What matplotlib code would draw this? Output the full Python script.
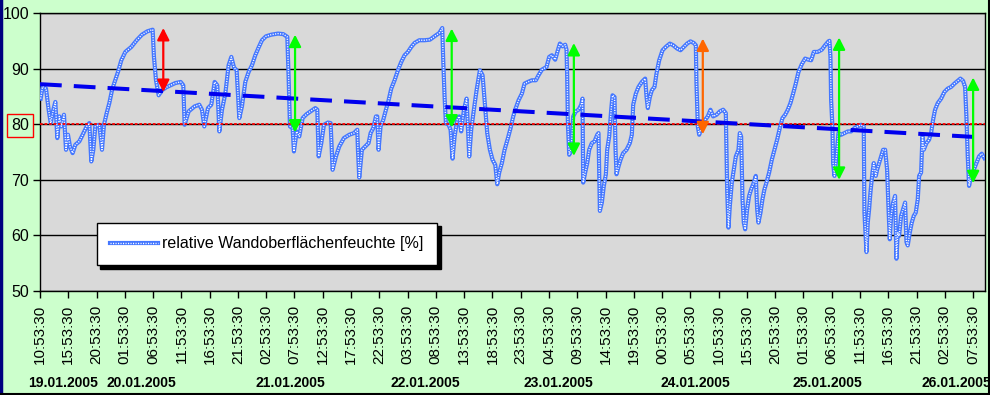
import matplotlib
matplotlib.use("Agg")
import matplotlib.pyplot as plt
from matplotlib.lines import Line2D
import numpy as np

plt.rcParams['font.family'] = ['Liberation Sans', 'DejaVu Sans']

# ---- data: hours since 19.01.2005 10:53:30, relative humidity [%] ----
hours = [0.12, 0.47, 1.06, 1.53, 1.89, 2.36, 2.71, 3.06, 3.42, 3.77, 4.24, 4.60, 4.95, 5.30, 5.77,
         6.25, 6.95, 7.54, 8.25, 8.72, 9.07, 9.43, 9.78, 10.49, 10.96, 11.31, 11.79, 12.26, 12.73,
         13.20, 13.79, 14.38, 15.09, 16.15, 17.09, 18.03, 18.97, 19.92, 20.15, 20.51, 20.98, 21.57,
         22.27, 23.10, 23.92, 24.87, 25.34, 25.57, 26.28, 27.34, 28.17,
         28.64, 29.05, 29.70, 30.29, 30.88, 31.35, 31.71, 32.18, 32.77, 33.35, 33.83, 34.30, 34.77,
         35.24, 35.71, 36.30, 36.89, 37.48, 38.07, 38.66, 39.25, 39.95, 40.90, 42.08, 43.02, 43.73,
         43.96, 44.20, 44.67, 44.90, 45.38, 45.85, 46.44, 47.14, 47.97, 48.68, 49.03, 49.27, 49.74,
         50.21, 50.92, 51.39, 51.74, 52.33, 52.92, 53.74, 54.69, 55.51, 56.10,
         56.22, 56.45, 56.92, 57.51, 58.10, 58.46, 58.93, 59.40, 59.63, 59.87, 60.22, 60.70, 61.17,
         61.64, 62.11, 62.70, 63.29, 63.88, 64.47, 65.06, 65.65, 66.23, 67.06, 68.00, 68.95, 69.89,
         70.60, 71.13, 71.30, 71.54, 71.77, 72.25, 72.60, 72.95, 73.31, 73.78, 74.13, 74.48, 74.96,
         75.43, 75.90, 76.25, 76.72, 77.20, 77.78, 78.26, 78.61, 79.08, 79.55, 80.02, 80.50, 80.85,
         81.20, 81.67, 82.15, 82.74, 83.21, 83.68, 84.03,
         84.62, 85.21, 85.68, 86.27, 86.98, 87.68, 88.15, 88.74, 89.57, 90.04, 90.51, 91.10, 91.57,
         91.93, 92.40, 92.87, 93.10, 93.22, 93.34, 93.58, 93.93, 94.28, 94.75, 95.23, 95.70, 95.93,
         96.05, 96.40, 96.76, 97.11, 97.58, 98.05, 98.53, 98.76, 99.00, 99.35, 99.70, 100.06, 100.29,
         100.65, 101.00, 101.24, 101.59, 101.77, 101.94, 102.30, 102.65, 103.12, 103.71, 104.30,
         104.65, 104.89, 105.36, 105.83, 106.42, 107.01, 107.25, 107.48, 107.84, 108.19, 108.66,
         109.01, 109.49, 110.08, 110.66, 111.37, 111.96,
         112.67, 113.26, 113.84, 114.43, 115.02, 115.61, 115.97, 116.08, 116.32, 116.56, 116.91,
         117.26, 117.62, 118.09, 118.56, 119.03, 119.62, 120.21, 120.80, 121.27, 121.51, 121.74,
         121.98, 122.33, 122.68, 123.04, 123.51, 123.74, 123.98, 124.22, 124.45, 124.69, 125.04,
         125.39, 125.75, 126.22, 126.57, 126.81, 127.04, 127.40, 127.75, 128.10, 128.46, 128.93,
         129.40, 129.87, 130.34, 130.82, 131.29, 131.76, 132.23, 132.70, 133.17, 133.64, 134.12,
         134.71, 135.29, 135.88, 136.36, 136.83, 137.53, 138.24, 138.83, 139.42, 139.60,
         139.77, 139.89, 140.12, 140.24, 140.48, 140.83, 141.19, 141.66, 142.25, 142.84, 143.42,
         144.01, 144.60, 145.19, 145.66, 145.78, 146.14, 146.37, 146.61, 146.84, 147.20, 147.43,
         147.79, 148.02, 148.37, 148.73, 149.08, 149.44, 149.79, 150.02, 150.26, 150.50, 150.85,
         151.20, 151.44, 151.67, 151.91, 152.26, 152.62, 152.97, 153.21, 153.44, 153.80, 154.15,
         154.50, 154.86, 155.21, 155.45, 155.80, 156.04, 156.27, 156.74, 157.21, 157.57, 157.92,
         158.27, 158.75, 159.34, 159.92, 160.51, 161.10, 161.69, 162.28, 162.75, 163.22, 163.58,
         163.81, 164.05, 164.28, 164.64, 165.11, 165.58, 166.05, 166.52, 167.0]

humidity = [84.6, 86.8, 86.4, 82.6, 80.2, 82.6, 84.0, 77.5, 81.4, 79.6, 81.7, 75.4, 78.1, 76.0, 74.8,
            76.3, 76.9, 78.1, 79.6, 80.2, 73.3, 75.4, 79.6, 79.9, 75.4, 79.9, 82.0, 83.8, 86.1,
            87.6, 89.4, 91.5, 93.0, 93.9, 95.1, 96.1, 96.7, 97.0, 92.1, 87.9, 85.2, 86.1,
            86.6, 87.0, 87.4, 87.6, 87.0, 79.9, 82.3, 83.2, 83.5,
            82.6, 79.6, 82.9, 83.5, 87.6, 87.0, 78.7, 82.6, 85.5, 90.6, 92.1, 90.2, 89.7,
            81.1, 83.2, 87.6, 89.4, 90.6, 92.4, 93.8, 95.1, 95.8, 96.1, 96.3, 96.2, 95.7,
            88.5, 79.6, 79.3, 75.1, 78.7, 77.8, 81.1, 81.8, 82.4, 82.9, 82.6, 74.2, 76.6,
            79.9, 80.3, 80.2, 71.8, 74.2, 76.0, 77.5, 78.1, 78.4, 79.0,
            75.4, 70.4, 75.4, 76.0, 76.6, 78.4, 79.3, 81.4, 81.4, 75.4, 79.6, 80.8, 82.6,
            84.3, 86.4, 87.9, 89.7, 91.2, 92.4, 93.0, 93.9, 94.6, 95.1, 95.1, 95.2, 95.9,
            96.4, 97.3, 91.5, 84.9, 80.2, 79.9, 79.0, 73.8, 77.8, 80.8, 81.4, 78.7, 82.6,
            84.6, 74.2, 79.0, 82.6, 86.1, 89.7, 88.8, 84.3, 78.4, 75.4, 73.6, 72.7, 69.2,
            71.3, 73.0, 75.4, 77.5, 79.3, 81.4, 82.6,
            84.3, 85.5, 87.3, 87.6, 87.9, 87.9, 88.8, 89.8, 90.3, 92.1, 92.4, 91.6, 93.3,
            94.5, 94.0, 94.3, 93.4, 88.5, 80.2, 74.5, 75.4, 81.4, 82.3, 82.6, 83.5, 84.6,
            69.5, 71.3, 73.0, 75.4, 76.6, 76.9, 78.1, 78.4, 64.4, 65.9, 68.9, 71.0, 75.4,
            77.8, 82.6, 85.2, 84.9, 75.4, 71.0, 72.4, 73.6, 74.8, 75.4, 76.6,
            78.1, 83.5, 85.5, 86.7, 87.6, 88.2, 84.9, 82.9, 84.9, 86.1, 86.7,
            89.1, 91.5, 93.3, 93.9, 94.5, 94.2,
            93.6, 93.3, 93.9, 94.5, 94.9, 94.6, 94.2, 87.3, 79.6, 78.1, 79.3,
            79.9, 80.8, 81.4, 82.6, 81.4, 81.7, 82.3, 82.6, 82.0, 68.0, 61.4,
            65.3, 69.5, 71.8, 74.2, 75.4, 78.4, 77.8, 66.5, 62.3, 61.1, 64.7,
            67.1, 68.3, 69.5, 70.7, 64.7, 62.3, 64.1, 66.5, 68.3, 69.5, 71.3,
            73.6, 75.4, 77.2, 79.3, 81.1, 81.7, 82.6, 83.8, 85.5, 87.3, 89.4,
            90.8, 91.8, 91.6, 91.5, 93.0, 93.0, 93.4, 94.2, 94.9, 95.0,
            92.1, 84.3, 79.6, 73.0, 70.7, 74.2, 78.4, 78.1, 78.4, 78.7, 78.7,
            79.3, 79.6, 79.9, 79.6, 64.1, 57.0, 62.3, 64.7, 67.7, 71.3, 73.0,
            70.7, 71.8, 73.0, 74.2, 75.4, 75.4, 71.8, 65.3, 59.3, 63.5, 65.9,
            67.1, 55.8, 60.5, 59.9, 63.5, 64.7, 65.9, 58.8, 58.2, 60.5, 62.3,
            63.5, 64.1, 66.5, 70.7, 71.3, 77.8, 75.4, 76.6, 77.2, 78.4, 80.8,
            82.6, 83.8, 84.6, 85.8, 86.4, 86.7, 87.3, 87.8, 88.2, 87.8, 86.7,
            81.4, 74.2, 68.9, 70.7, 71.8, 73.0, 74.2, 74.7, 73.9]

series_label = "relative Wandoberflächenfeuchte [%]"

# linear trend (start / end values)
trend_hours = [0.0, 167.1]
trend_values = [87.2, 77.6]

threshold = 80

# vertical double arrows: hour, top, bottom, colour
arrow_hours = [21.8, 45.1, 72.8, 94.4, 117.2, 141.3, 165.0]
arrow_top = [97.3, 96.1, 97.2, 94.6, 95.4, 95.6, 88.4]
arrow_bottom = [85.8, 78.5, 79.4, 74.3, 78.2, 70.0, 69.4]
arrow_colors = ['#ff0000', '#00ff00', '#00ff00', '#00ff00', '#ff6600', '#00ff00', '#00ff00']

tick_hours = list(range(0, 166, 5))
tick_labels = ['10:53:30', '15:53:30', '20:53:30', '01:53:30', '06:53:30', '11:53:30', '16:53:30',
               '21:53:30', '02:53:30', '07:53:30', '12:53:30', '17:53:30', '22:53:30', '03:53:30',
               '08:53:30', '13:53:30', '18:53:30', '23:53:30', '04:53:30', '09:53:30', '14:53:30',
               '19:53:30', '00:53:30', '05:53:30', '10:53:30', '15:53:30', '20:53:30', '01:53:30',
               '06:53:30', '11:53:30', '16:53:30', '21:53:30', '02:53:30', '07:53:30']

date_labels = ['19.01.2005', '20.01.2005', '21.01.2005', '22.01.2005', '23.01.2005',
               '24.01.2005', '25.01.2005', '26.01.2005']
date_label_hours = [4.1, 18.0, 44.2, 68.1, 91.6, 115.8, 139.3, 162.1]

yticks = [50, 60, 70, 80, 90, 100]

# ---- figure ----
fig = plt.figure(figsize=(9.9, 3.95), dpi=100, facecolor='#ccffcc')
ax = fig.add_axes([40/990, 1-291/395, 945/990, 278/395])
ax.set_facecolor('#d9d9d9')

ax.set_xlim(0, 167.1)
ax.set_ylim(50, 100)

for yv in yticks:
    ax.axhline(yv, color='black', lw=1.0, zorder=1)

# series with pattern-like look
l1, = ax.plot(hours, humidity, color='#4477ff', lw=3.0, zorder=3)
l2, = ax.plot(hours, humidity, color='white', lw=1.0, zorder=4, dashes=(0.8, 1.0))

# threshold line
ax.axhline(threshold, color='#ff0000', lw=1.3, dashes=(1.5, 1.0), zorder=5)

# trend line
tl, = ax.plot(trend_hours, trend_values, color='#0000ee', lw=2.9, zorder=5)
tl.set_dashes((5.4, 3.0))

# arrows
for h, t, b, c in zip(arrow_hours, arrow_top, arrow_bottom, arrow_colors):
    ax.annotate('', xy=(h, t), xytext=(h, b),
                arrowprops=dict(arrowstyle='<|-|>,head_length=0.55,head_width=0.28',
                                color=c, lw=1.6, mutation_scale=13,
                                shrinkA=0, shrinkB=0), zorder=6)

ax.set_xticks(tick_hours)
ax.set_xticklabels(tick_labels, rotation=90, fontsize=11)
ax.set_yticks(yticks)
ax.set_yticklabels([str(v) for v in yticks], fontsize=11.5)
ax.tick_params(axis='both', direction='out', length=5, width=1, color='black', pad=3)
ax.tick_params(axis='x', pad=5)
for lab in ax.get_yticklabels():
    if lab.get_text() == str(threshold):
        lab.set_bbox(dict(facecolor='none', edgecolor='#ff0000', lw=1.0, pad=3.0))

for s in ax.spines.values():
    s.set_color('black')
    s.set_linewidth(1.0)

# date labels below the axis
trans = matplotlib.transforms.blended_transform_factory(ax.transData, fig.transFigure)
for h, d in zip(date_label_hours, date_labels):
    ax.text(h, 1-383/395, d, transform=trans, ha='center', va='center',
            fontsize=10, fontweight='bold', clip_on=False)

leg = ax.legend([(l1, l2)], [series_label], loc='upper left', bbox_to_anchor=(0.06, 0.245),
                frameon=True, fancybox=False, fontsize=11.5, handlelength=3.0,
                handletextpad=0.25, borderpad=0.85, borderaxespad=0,
                shadow={'color': 'black', 'alpha': 1.0, 'ox': 2.5, 'oy': -2.5})
leg.get_frame().set_edgecolor('black')
leg.get_frame().set_linewidth(1.0)
leg.get_frame().set_facecolor('white')
leg.set_zorder(10)

# outer border of the chart
fig.add_artist(Line2D([0.001, 0.001], [0, 1], color='#000080', lw=2.5, transform=fig.transFigure))
fig.add_artist(Line2D([0, 1], [0.003, 0.003], color='black', lw=1.5, transform=fig.transFigure))
fig.add_artist(Line2D([0.9985, 0.9985], [0, 1], color='black', lw=1.5, transform=fig.transFigure))

fig.savefig('out.png', dpi=100, facecolor=fig.get_facecolor())
